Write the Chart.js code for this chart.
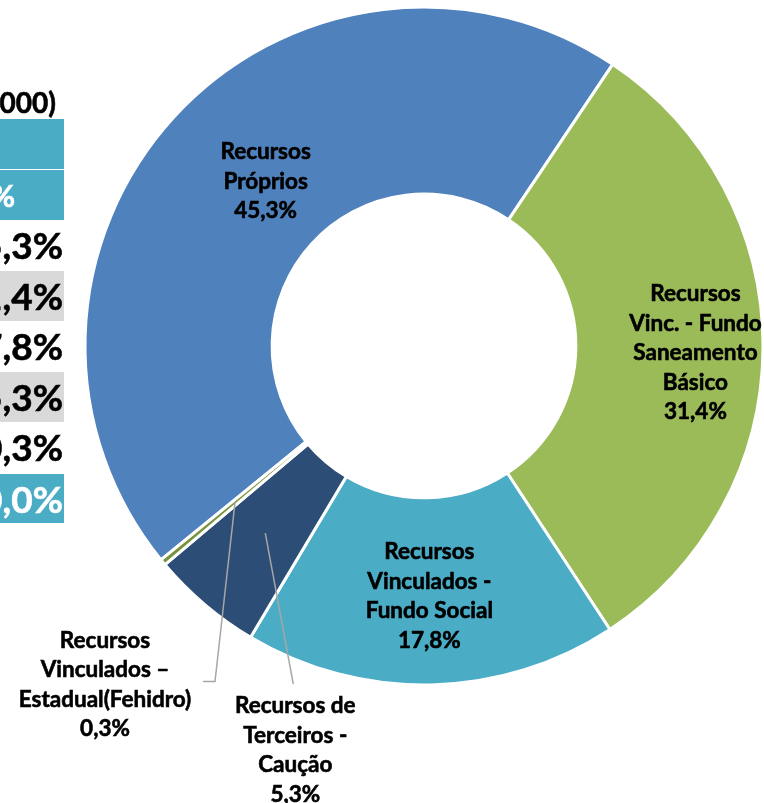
<!DOCTYPE html>
<html>
<head>
<meta charset="utf-8">
<script src="https://cdn.jsdelivr.net/npm/chart.js@4.4.1/dist/chart.umd.min.js"></script>
<style>
    html, body { margin: 0; padding: 0; background: #fff; overflow: hidden; }
    #wrap { position: relative; width: 764px; height: 803px; }
    #chart { position: absolute; left: 0; top: 0; }
    .row {
        position: absolute; left: -236px; width: 300px; box-sizing: border-box;
        font-family: Lato, "Noto Sans", sans-serif; font-weight: bold;
        text-align: right; white-space: nowrap;
        -webkit-text-stroke: 0.6px currentColor;
    }
</style>
</head>
<body>
<div id="wrap">
    <canvas id="chart" width="764" height="803"></canvas>
    <div id="table"></div>
</div>
<script>
// Fontes de recursos
const categories = [
    'Recursos Próprios',
    'Recursos Vinc. - Fundo Saneamento Básico',
    'Recursos Vinculados - Fundo Social',
    'Recursos de Terceiros - Caução',
    'Recursos Vinculados – Estadual(Fehidro)'
];
const labelLines = [
    ['Recursos', 'Próprios'],
    ['Recursos', 'Vinc. - Fundo', 'Saneamento', 'Básico'],
    ['Recursos', 'Vinculados -', 'Fundo Social'],
    ['Recursos de', 'Terceiros -', 'Caução'],
    ['Recursos', 'Vinculados –', 'Estadual(Fehidro)']
];
const shares = [45.3, 31.4, 17.8, 5.3, 0.3];
const shareTotal = 100.0;
const colors = ['#4F81BD', '#9BBB59', '#4BACC6', '#2C4D75', '#77933C'];

// table (cut off at the left edge of the picture)
const tableTitle = 'Valor (R$ 1.000)';
const percentHeader = '%';

const pct = v => v.toFixed(1).replace('.', ',') + '%';

// label placement relative to each slice centroid
const LINE_H = 29.5;
const labelLayout = [
    { dx: 23, dy: 1 },
    { dx: 26, dy: 6 },
    { dx: 0, dy: 5 },
    { dx: 30, dy: 217, leader: [[28, 151]] },
    { dx: -130, dy: 182, leader: [[-20, 179], [-32, 179]] }
];

// build the table rows
const table = document.getElementById('table');
function addRow(top, h, text, opts) {
    const d = document.createElement('div');
    d.className = 'row';
    d.style.top = top + 'px';
    d.style.height = h + 'px';
    d.style.lineHeight = h + 'px';
    d.style.fontSize = opts.size + 'px';
    d.style.paddingRight = opts.pad + 'px';
    d.style.background = opts.bg || 'transparent';
    d.style.color = opts.color || '#000';
    d.textContent = text;
    table.appendChild(d);
}
addRow(84, 36, tableTitle, { size: 28, pad: 8 });
addRow(119, 50, '', { size: 28, pad: 2, bg: '#4BACC6' });
addRow(170, 50, percentHeader, { size: 30, pad: 49, bg: '#4BACC6', color: '#fff' });
shares.forEach((v, i) => {
    addRow(220 + i * 50.5, 50.5, pct(v), { size: 37, pad: 1, bg: i % 2 ? '#D9D9D9' : 'transparent' });
});
addRow(220 + shares.length * 50.5 + 1, 49, pct(shareTotal), { size: 37, pad: 1, bg: '#4BACC6', color: '#fff' });

const sliceLabels = {
    id: 'sliceLabels',
    afterDatasetsDraw(chart) {
        const ctx = chart.ctx;
        const meta = chart.getDatasetMeta(0);
        ctx.save();
        ctx.font = 'bold 22.5px Lato, "Noto Sans", sans-serif';
        ctx.textAlign = 'center';
        ctx.textBaseline = 'middle';
        meta.data.forEach((arc, i) => {
            const p = arc.getProps(['x', 'y', 'startAngle', 'endAngle', 'innerRadius', 'outerRadius'], true);
            const mid = (p.startAngle + p.endAngle) / 2;
            const r = (p.innerRadius + p.outerRadius) / 2;
            const ax = p.x + Math.cos(mid) * r;
            const ay = p.y + Math.sin(mid) * r;
            const lay = labelLayout[i];
            if (lay.leader) {
                ctx.strokeStyle = '#A6A6A6';
                ctx.lineWidth = 1.5;
                ctx.beginPath();
                ctx.moveTo(ax, ay);
                lay.leader.forEach(([dx, dy]) => ctx.lineTo(ax + dx, ay + dy));
                ctx.stroke();
            }
            const lines = labelLines[i].concat(pct(shares[i]));
            const top = ay + lay.dy - (lines.length - 1) * LINE_H / 2;
            ctx.fillStyle = '#000';
            ctx.strokeStyle = '#000';
            ctx.lineWidth = 0.6;
            lines.forEach((t, k) => {
                ctx.fillText(t, ax + lay.dx, top + k * LINE_H);
                ctx.strokeText(t, ax + lay.dx, top + k * LINE_H);
            });
        });
        ctx.restore();
    }
};

new Chart(document.getElementById('chart').getContext('2d'), {
    type: 'doughnut',
    data: {
        labels: categories,
        datasets: [{
            data: shares,
            backgroundColor: colors,
            borderColor: '#fff',
            borderWidth: 3
        }]
    },
    options: {
        responsive: false,
        animation: false,
        rotation: -129.1,
        radius: 339,
        cutout: '44.8%',
        layout: { padding: { left: 84, right: 0, top: 0, bottom: 111 } },
        plugins: {
            legend: { display: false },
            tooltip: { enabled: false }
        }
    },
    plugins: [sliceLabels]
});
</script>
</body>
</html>
